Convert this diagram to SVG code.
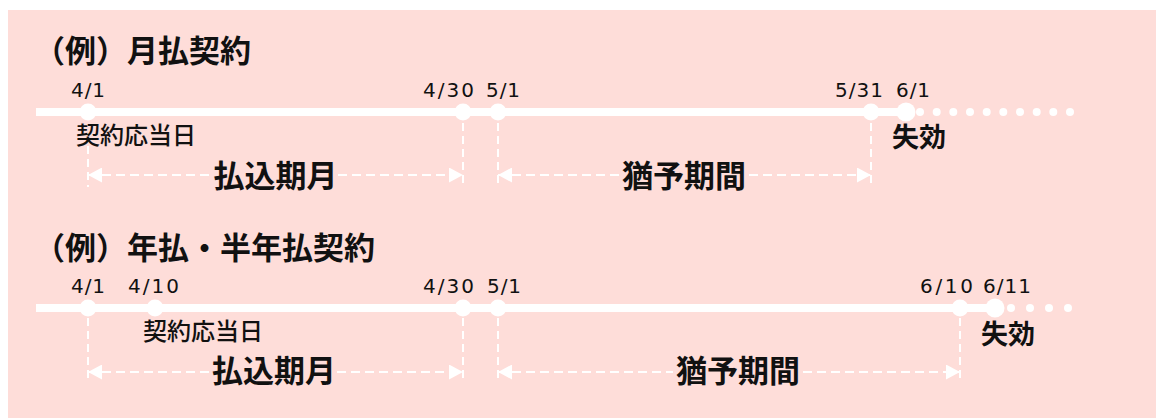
<svg xmlns="http://www.w3.org/2000/svg" width="1156" height="418" viewBox="0 0 1156 418">
<style>
.bg{fill:#FEDDD9}
.tl{stroke:#fff;stroke-width:8;fill:none}
.pt{fill:#fff}
.dot{fill:#fff}
.vd{stroke:#fff;stroke-width:2;stroke-dasharray:8 5;fill:none}
.hd{stroke:#fff;stroke-width:2;stroke-dasharray:9 5;fill:none}
.title{font-family:"Noto Sans CJK JP",sans-serif;font-size:31px;font-weight:bold;fill:#111}
.period{font-family:"Noto Sans CJK JP",sans-serif;font-size:31px;font-weight:bold;fill:#111;text-anchor:middle}
.lbl{font-family:"Noto Sans CJK JP",sans-serif;font-size:24px;font-weight:500;fill:#111}
.lapse{font-family:"Noto Sans CJK JP",sans-serif;font-size:27px;font-weight:bold;fill:#111}
.date{font-family:"DejaVu Sans",sans-serif;font-size:20px;fill:#111}
</style>
<defs>
<marker id="ah" viewBox="0 0 14 15" markerWidth="14" markerHeight="15" refX="14" refY="7.5" orient="auto-start-reverse" markerUnits="userSpaceOnUse">
<path d="M0,0 L14,7.5 L0,15 Z" fill="#fff"/>
</marker>
</defs>
<rect class="bg" x="8" y="10" width="1148" height="408"/>

<g id="monthly">
<text class="title" x="34" y="62">（例）月払契約</text>
<g id="m-timeline">
<line class="tl" x1="36" y1="112" x2="906" y2="112"/>
<g class="dot">
<circle cx="920" cy="112" r="4"/><circle cx="936.7" cy="112" r="4"/><circle cx="953.3" cy="112" r="4"/><circle cx="970" cy="112" r="4"/><circle cx="986.7" cy="112" r="4"/><circle cx="1003.3" cy="112" r="4"/><circle cx="1020" cy="112" r="4"/><circle cx="1036.7" cy="112" r="4"/><circle cx="1053.3" cy="112" r="4"/><circle cx="1070" cy="112" r="4"/>
</g>
</g>
<g id="m-0401"><circle class="pt" cx="88" cy="112" r="8.5"/><text class="date" x="71" y="97" textLength="34" lengthAdjust="spacing">4/1</text><text class="lbl" x="76" y="144">契約応当日</text></g>
<g id="m-0430"><circle class="pt" cx="463" cy="112" r="8.5"/><text class="date" x="423" y="97" textLength="51" lengthAdjust="spacing">4/30</text></g>
<g id="m-0501"><circle class="pt" cx="498" cy="112" r="8.5"/><text class="date" x="486" y="97" textLength="34" lengthAdjust="spacing">5/1</text></g>
<g id="m-0531"><circle class="pt" cx="871" cy="112" r="8.5"/><text class="date" x="835" y="97" textLength="48" lengthAdjust="spacing">5/31</text></g>
<g id="m-0601"><circle class="pt" cx="906" cy="112" r="9.5"/><text class="date" x="896" y="97" textLength="34" lengthAdjust="spacing">6/1</text><text class="lapse" x="892" y="147">失効</text></g>
<g id="m-pay"><text class="period" x="275.5" y="187">払込期月</text></g>
<g id="m-grace"><text class="period" x="684" y="187">猶予期間</text></g>
</g>

<g id="annual">
<text class="title" x="34" y="259">（例）年払・半年払契約</text>
<g id="a-timeline">
<line class="tl" x1="36" y1="308" x2="995" y2="308"/>
<g class="dot">
<circle cx="1011" cy="308" r="4"/><circle cx="1030" cy="308" r="4"/><circle cx="1049" cy="308" r="4"/><circle cx="1068" cy="308" r="4"/>
</g>
</g>
<g id="a-0401"><circle class="pt" cx="88" cy="308" r="8.5"/><text class="date" x="71" y="293" textLength="34" lengthAdjust="spacing">4/1</text></g>
<g id="a-0410"><circle class="pt" cx="155" cy="308" r="8.5"/><text class="date" x="128" y="293" textLength="51" lengthAdjust="spacing">4/10</text><text class="lbl" x="143" y="340">契約応当日</text></g>
<g id="a-0430"><circle class="pt" cx="463" cy="308" r="8.5"/><text class="date" x="423" y="293" textLength="51" lengthAdjust="spacing">4/30</text></g>
<g id="a-0501"><circle class="pt" cx="498" cy="308" r="8.5"/><text class="date" x="487" y="293" textLength="34" lengthAdjust="spacing">5/1</text></g>
<g id="a-0610"><circle class="pt" cx="960" cy="308" r="8.5"/><text class="date" x="920" y="293" textLength="53" lengthAdjust="spacing">6/10</text></g>
<g id="a-0611"><circle class="pt" cx="995" cy="308" r="9.5"/><text class="date" x="983" y="293" textLength="48" lengthAdjust="spacing">6/11</text><text class="lapse" x="981" y="344">失効</text></g>
<g id="a-pay"><text class="period" x="274" y="382">払込期月</text></g>
<g id="a-grace"><text class="period" x="738" y="382">猶予期間</text></g>
</g>

<g id="connectors">
<line class="vd" x1="88" y1="146" x2="88" y2="187"/>
<line class="vd" x1="463" y1="123" x2="463" y2="187"/>
<line class="vd" x1="498" y1="123" x2="498" y2="187"/>
<line class="vd" x1="871" y1="123" x2="871" y2="187"/>
<line class="hd" x1="88" y1="175" x2="212" y2="175" marker-start="url(#ah)"/>
<line class="hd" x1="338" y1="175" x2="463" y2="175" marker-end="url(#ah)"/>
<line class="hd" x1="498" y1="175" x2="619" y2="175" marker-start="url(#ah)"/>
<line class="hd" x1="749" y1="175" x2="871" y2="175" marker-end="url(#ah)"/>

<line class="vd" x1="88" y1="318" x2="88" y2="383"/>
<line class="vd" x1="463" y1="318" x2="463" y2="383"/>
<line class="vd" x1="498" y1="318" x2="498" y2="383"/>
<line class="vd" x1="960" y1="318" x2="960" y2="383"/>
<line class="hd" x1="88" y1="372" x2="211" y2="372" marker-start="url(#ah)"/>
<line class="hd" x1="337" y1="372" x2="463" y2="372" marker-end="url(#ah)"/>
<line class="hd" x1="498" y1="372" x2="673" y2="372" marker-start="url(#ah)"/>
<line class="hd" x1="803" y1="372" x2="960" y2="372" marker-end="url(#ah)"/>
</g>
</svg>
